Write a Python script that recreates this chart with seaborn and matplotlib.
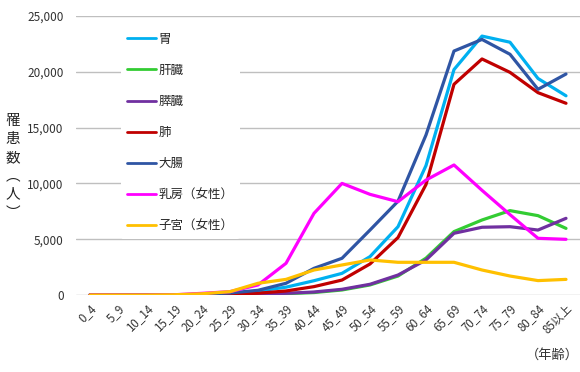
import pandas as pd
import matplotlib
matplotlib.use('Agg')
import matplotlib.pyplot as plt
import seaborn as sns

ages = ['0_4', '5_9', '10_14', '15_19', '20_24', '25_29', '30_34', '35_39', '40_44',
        '45_49', '50_54', '55_59', '60_64', '65_69', '70_74', '75_79', '80_84', '85以上']

stomach = [0, 0, 5, 15, 60, 160, 350, 700, 1280, 1940, 3440, 6120, 11600, 20200, 23200, 22650, 19400, 17850]
liver = [10, 5, 5, 10, 20, 40, 70, 120, 220, 450, 900, 1700, 3300, 5680, 6720, 7560, 7110, 5970]
pancreas = [0, 0, 0, 5, 15, 40, 80, 150, 270, 510, 960, 1790, 3140, 5530, 6070, 6120, 5820, 6870]
lung = [0, 0, 5, 15, 40, 80, 160, 360, 750, 1340, 2780, 5150, 9900, 18880, 21150, 19950, 18130, 17180]
colon = [0, 0, 5, 20, 60, 180, 420, 1050, 2390, 3290, 5820, 8400, 14340, 21860, 22900, 21570, 18430, 19800]
breast = [0, 0, 0, 20, 150, 300, 900, 2840, 7320, 10000, 9020, 8360, 10300, 11650, 9380, 7200, 5080, 4990]
uterus = [0, 0, 0, 20, 110, 300, 1050, 1400, 2240, 2690, 3140, 2930, 2930, 2930, 2240, 1700, 1290, 1400]

sites = ['胃', '肝臓', '膵臓', '肺', '大腸', '乳房（女性）', '子宮（女性）']
colors = ['#00B0F0', '#33CC33', '#7030A0', '#C00000', '#2F55A4', '#FF00FF', '#FFC000']
series = [stomach, liver, pancreas, lung, colon, breast, uterus]

rows = []
for site, vals in zip(sites, series):
    for i, v in enumerate(vals):
        rows.append({'pos': i, 'age': ages[i], 'site': site, 'count': v})
df = pd.DataFrame(rows)

sns.set_style('white')
plt.rcParams['font.family'] = ['Noto Sans CJK JP', 'DejaVu Sans']

fig = plt.figure(figsize=(5.8, 3.72), dpi=100)
ax = fig.add_axes([76 / 580, 1 - 295 / 372, 504 / 580, 279 / 372])

sns.lineplot(data=df, x='pos', y='count', hue='site', hue_order=sites,
             palette=dict(zip(sites, colors)), sort=False, linewidth=2.3, ax=ax)

ax.set_xlim(-0.5, len(ages) - 0.5)
ax.set_ylim(0, 25000)
ax.set_yticks(range(0, 25001, 5000))
ax.set_yticklabels([f'{v:,}' for v in range(0, 25001, 5000)], fontsize=8.5, color='#333333')
ax.set_xticks(range(len(ages)))
ax.set_xticklabels(ages, rotation=45, ha='right', rotation_mode='anchor', fontsize=8.3, color='#333333')
ax.tick_params(axis='both', length=0)
ax.tick_params(axis='y', pad=9)
ax.tick_params(axis='x', pad=5)
ax.grid(axis='y', color='#BFBFBF', linewidth=1)
ax.set_axisbelow(True)
for s in ax.spines.values():
    s.set_visible(False)
ax.set_xlabel('')
ax.set_ylabel('')

leg = ax.legend(loc='upper left', bbox_to_anchor=(0.076, 0.985), frameon=True,
                fontsize=9, handlelength=2.3, handletextpad=0.25, labelspacing=1.45,
                borderpad=0.5)
leg.get_frame().set_facecolor('white')
leg.get_frame().set_edgecolor('none')
leg.get_frame().set_alpha(1)
for line in leg.get_lines():
    line.set_linewidth(2)

fig.text(12.5 / 580, 1 - 167 / 372, '\n'.join('罹患数︵人︶'), fontsize=10.5,
         ha='center', va='center', linespacing=1.4, color='#222222')
fig.text(579 / 580, 1 - 355 / 372, '（年齢）', fontsize=9.5, ha='right', va='center', color='#333333')

fig.savefig('out.png', dpi=100)
